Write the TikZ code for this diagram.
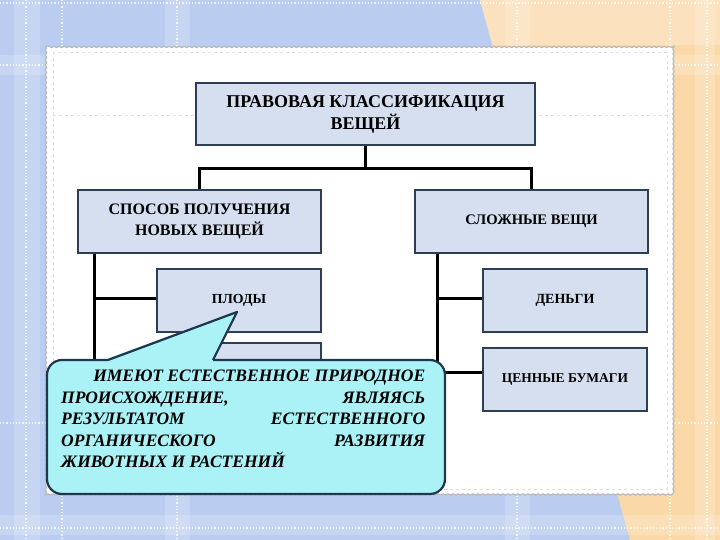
\documentclass[tikz,border=0pt]{standalone}
\usepackage{fontspec}
\setmainfont{Liberation Serif}
\usetikzlibrary{decorations.pathmorphing}
\definecolor{bgblue}{RGB}{186,204,240}
\definecolor{bgorange}{RGB}{250,216,168}
\definecolor{boxfill}{RGB}{214,223,240}
\definecolor{boxline}{RGB}{45,62,85}
\definecolor{callfill}{RGB}{170,242,246}
\definecolor{callline}{RGB}{30,55,80}
\tikzset{
  box/.style={draw=boxline, fill=boxfill, line width=1.6pt, inner sep=0pt, align=center, font=\bfseries},
  conn/.style={draw=black, line width=3pt},
  plaid/.style={draw=white, line width=1.2pt, dotted, opacity=0.8},
  band/.style={fill=white, opacity=0.18},
}
\begin{document}
\begin{tikzpicture}[x=1pt,y=-1pt]
\useasboundingbox (0,0) rectangle (720,540);
% background
\fill[bgblue] (0,0) rectangle (720,540);
\fill[bgorange] (480,0) -- (720,0) -- (720,540) -- (630,540) -- cycle;
\fill[white, opacity=0.25] (480,0) -- (720,0) -- (720,45) -- (492,45) -- cycle;
\fill[band] (14,0) rectangle (40,540);
\fill[band] (165,0) rectangle (190,540);
\fill[band] (0,55) rectangle (720,75);
\fill[band] (0,515) rectangle (720,535);
\fill[band] (505,0) rectangle (530,540);
\fill[band] (695,0) rectangle (715,540);
\foreach \xx in {26,62,177,517,670,707} \draw[plaid] (\xx,0) -- (\xx,540);
\foreach \yy in {3,65,423,528} \draw[plaid] (0,\yy) -- (720,\yy);
% white panel
\draw[fill=white, draw=gray!55, line width=1.2pt, decorate,
      decoration={snake, amplitude=0.6pt, segment length=5pt}]
  (46,46) rectangle (673,494);
\draw[gray!25, dashed, line width=0.8pt] (53,52) rectangle (667,489);
\draw[gray!25, dashed, line width=0.8pt] (53,115) -- (667,115);
% boxes
\node[box, minimum width=339pt, minimum height=62pt, font=\bfseries\fontsize{18}{22}\selectfont]
  (top) at (365.5,114) {ПРАВОВАЯ КЛАССИФИКАЦИЯ\\ВЕЩЕЙ};
\node[box, minimum width=243pt, minimum height=63pt, font=\bfseries\fontsize{16}{21}\selectfont]
  (left) at (199.5,221.5) {СПОСОБ ПОЛУЧЕНИЯ\\НОВЫХ ВЕЩЕЙ};
\node[box, minimum width=233pt, minimum height=63pt, font=\bfseries\fontsize{14.6}{18}\selectfont]
  (right) at (531.5,221.5) {СЛОЖНЫЕ ВЕЩИ};
\node[box, minimum width=164pt, minimum height=63pt, font=\bfseries\fontsize{13.8}{17}\selectfont]
  (fruit) at (239,300.5) {ПЛОДЫ};
\node[box, minimum width=164pt, minimum height=63pt] (hidden) at (239,374.5) {};
\node[box, minimum width=164pt, minimum height=63pt, font=\bfseries\fontsize{14}{17}\selectfont]
  (money) at (565,300.5) {ДЕНЬГИ};
\node[box, minimum width=164pt, minimum height=63pt, font=\bfseries\fontsize{13.5}{17}\selectfont]
  (papers) at (565,379.5) {ЦЕННЫЕ БУМАГИ};
% connectors
\draw[conn] (top.south) -- ++(0,23) coordinate (hub);
\draw[conn] (left.north) |- (hub) -| (right.north);
\coordinate (ltop) at ([xshift=17pt]left.south west);
\coordinate (rtop) at ([xshift=23pt]right.south west);
\draw[conn] (ltop) |- ([yshift=2pt]fruit.west);
\draw[conn] (ltop) |- (hidden.west);
\draw[conn] (rtop) |- ([yshift=2pt]money.west);
\draw[conn] (rtop) |- ([yshift=7pt]papers.west);
% callout
\coordinate (tip) at (237,312);
\draw[fill=callfill, draw=callline, line width=2.2pt, rounded corners=15pt] (47,360) rectangle (445,494);
\fill[callfill] (108,358) -- (tip) -- (213,358) -- (213,363) -- (108,363) -- cycle;
\draw[callline, line width=2.2pt, line join=round] (108,360) -- (tip) -- (213,360);
\node[anchor=north west, inner sep=0pt, align=left,
      font=\bfseries\itshape\fontsize{17.5}{21.5}\selectfont] (note) at (61,370)
  {\makebox[364pt][r]{ИМЕЮТ ЕСТЕСТВЕННОЕ ПРИРОДНОЕ}\\
   \makebox[364pt]{ПРОИСХОЖДЕНИЕ,\hfill ЯВЛЯЯСЬ}\\
   \makebox[364pt]{РЕЗУЛЬТАТОМ\hfill ЕСТЕСТВЕННОГО}\\
   \makebox[364pt]{ОРГАНИЧЕСКОГО\hfill РАЗВИТИЯ}\\
   \makebox[364pt][l]{ЖИВОТНЫХ И РАСТЕНИЙ}};
\end{tikzpicture}
\end{document}
